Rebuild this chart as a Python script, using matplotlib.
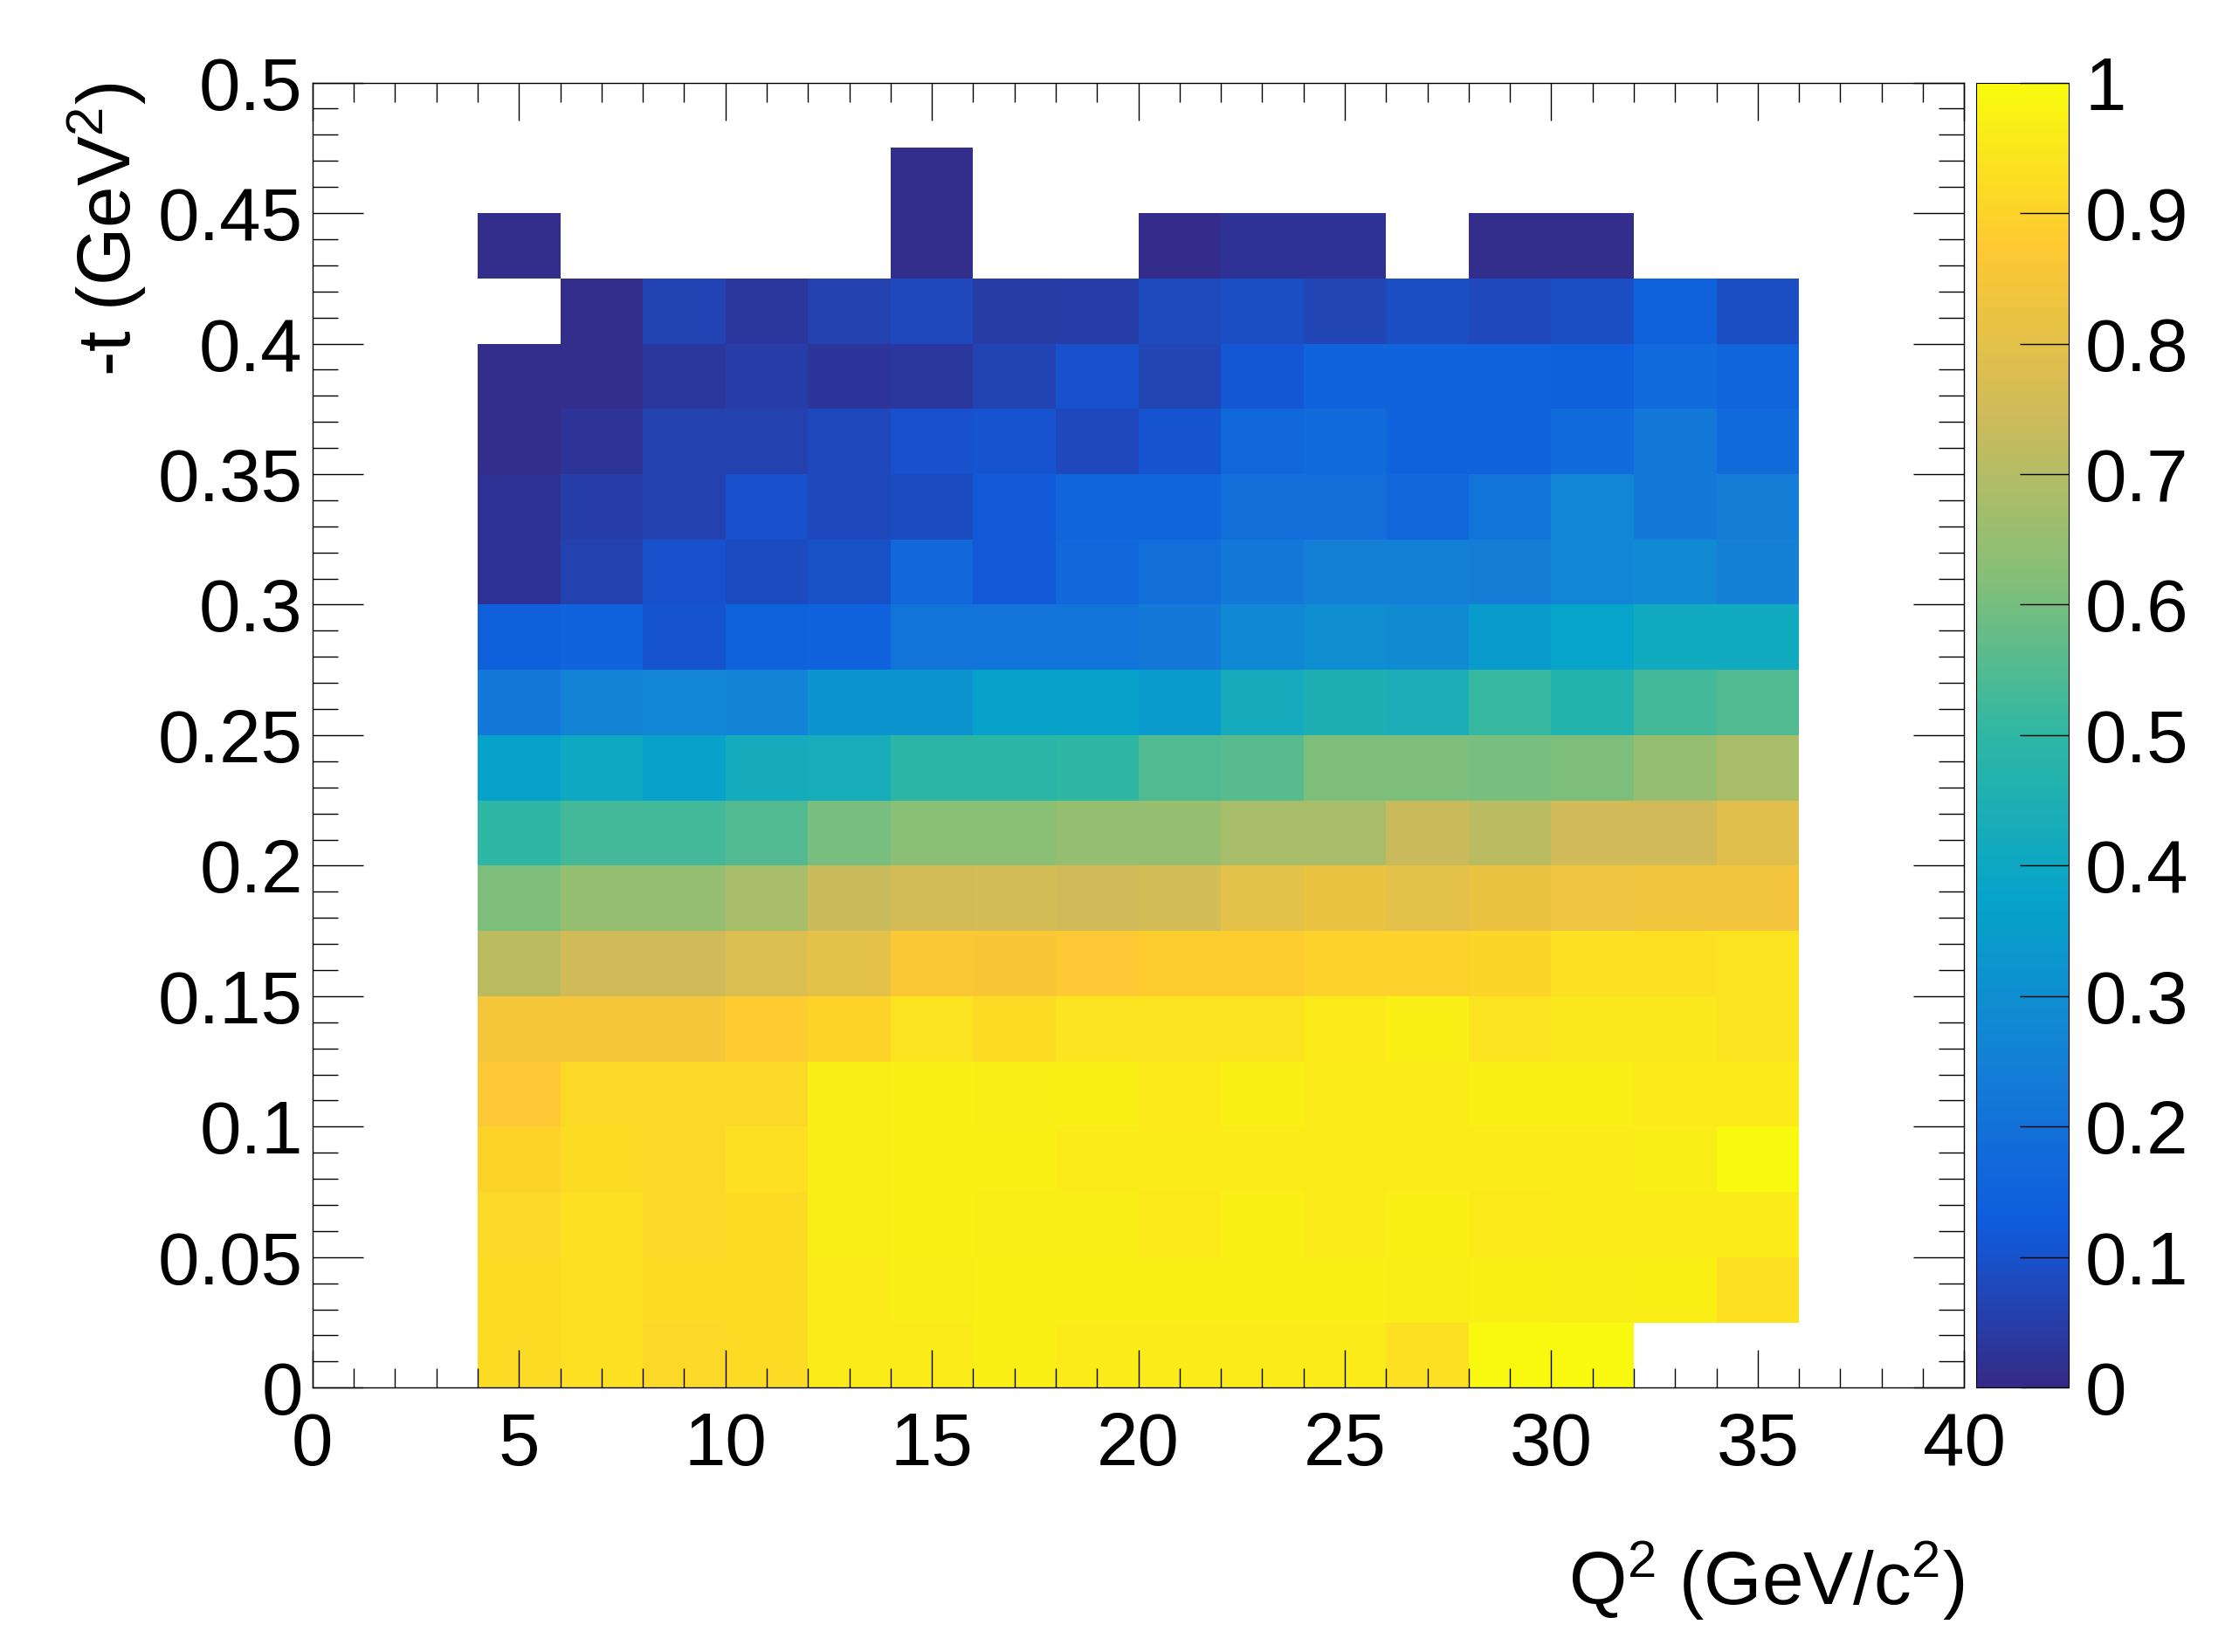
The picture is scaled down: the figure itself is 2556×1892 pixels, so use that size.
import numpy as np
import matplotlib
matplotlib.use("Agg")
import matplotlib.pyplot as plt
from matplotlib.colors import LinearSegmentedColormap

plt.rcParams['font.family'] = ['Liberation Sans', 'DejaVu Sans']
plt.rcParams['mathtext.fontset'] = 'custom'
plt.rcParams['mathtext.rm'] = 'Liberation Sans'
plt.rcParams['mathtext.it'] = 'Liberation Sans:italic'
plt.rcParams['mathtext.bf'] = 'Liberation Sans:bold'

# ---------------- data ----------------
q2_edges = [4, 6, 8, 10, 12, 14, 16, 18, 20, 22, 24, 26, 28, 30, 32, 34, 36]
t_edges = [0.0, 0.025, 0.05, 0.075, 0.1, 0.125, 0.15, 0.175, 0.2, 0.225,
           0.25, 0.275, 0.3, 0.325, 0.35, 0.375, 0.4, 0.425, 0.45, 0.475]

N = None
# rows from lowest -t bin (0-0.025) upwards, columns Q2 = 4..36 in steps of 2
row_00 = [0.92, 0.93, 0.91, 0.92, 0.96, 0.96, 0.97, 0.96, 0.96, 0.96, 0.96, 0.93, 0.995, 0.995, N, N]
row_01 = [0.92, 0.93, 0.92, 0.92, 0.96, 0.965, 0.97, 0.97, 0.97, 0.97, 0.97, 0.965, 0.97, 0.965, 0.97, 0.93]
row_02 = [0.91, 0.93, 0.91, 0.92, 0.965, 0.97, 0.965, 0.965, 0.955, 0.97, 0.96, 0.97, 0.955, 0.96, 0.96, 0.96]
row_03 = [0.90, 0.92, 0.91, 0.93, 0.965, 0.97, 0.97, 0.96, 0.96, 0.96, 0.96, 0.96, 0.96, 0.96, 0.965, 0.995]
row_04 = [0.87, 0.91, 0.91, 0.91, 0.965, 0.97, 0.965, 0.97, 0.955, 0.97, 0.96, 0.96, 0.97, 0.97, 0.955, 0.955]
row_05 = [0.85, 0.85, 0.85, 0.88, 0.90, 0.94, 0.92, 0.94, 0.94, 0.94, 0.955, 0.97, 0.94, 0.95, 0.95, 0.94]
row_06 = [0.71, 0.75, 0.75, 0.78, 0.80, 0.865, 0.86, 0.87, 0.885, 0.885, 0.895, 0.895, 0.905, 0.93, 0.93, 0.94]
row_07 = [0.61, 0.65, 0.65, 0.68, 0.735, 0.755, 0.76, 0.75, 0.76, 0.80, 0.82, 0.80, 0.82, 0.83, 0.84, 0.84]
row_08 = [0.50, 0.53, 0.53, 0.55, 0.60, 0.63, 0.63, 0.65, 0.65, 0.68, 0.68, 0.735, 0.71, 0.75, 0.75, 0.79]
row_09 = [0.37, 0.40, 0.37, 0.42, 0.43, 0.49, 0.49, 0.50, 0.55, 0.56, 0.61, 0.61, 0.60, 0.61, 0.65, 0.68]
row_10 = [0.22, 0.26, 0.27, 0.26, 0.32, 0.32, 0.37, 0.37, 0.345, 0.42, 0.45, 0.44, 0.51, 0.47, 0.53, 0.55]
row_11 = [0.14, 0.15, 0.105, 0.145, 0.15, 0.21, 0.21, 0.21, 0.22, 0.275, 0.30, 0.29, 0.345, 0.375, 0.415, 0.415]
row_12 = [0.02, 0.06, 0.10, 0.085, 0.095, 0.165, 0.12, 0.165, 0.19, 0.22, 0.245, 0.245, 0.24, 0.27, 0.28, 0.25]
row_13 = [0.02, 0.05, 0.06, 0.10, 0.075, 0.085, 0.12, 0.16, 0.16, 0.19, 0.19, 0.165, 0.21, 0.27, 0.22, 0.24]
row_14 = [0.01, 0.025, 0.06, 0.06, 0.075, 0.10, 0.105, 0.075, 0.105, 0.165, 0.18, 0.15, 0.15, 0.18, 0.22, 0.18]
row_15 = [0.01, 0.01, 0.035, 0.05, 0.03, 0.035, 0.065, 0.10, 0.07, 0.11, 0.15, 0.15, 0.15, 0.14, 0.18, 0.16]
row_16 = [N, 0.01, 0.065, 0.035, 0.06, 0.075, 0.045, 0.05, 0.08, 0.09, 0.07, 0.09, 0.075, 0.09, 0.145, 0.09]
row_17 = [0.01, N, N, N, N, 0.01, N, N, 0.005, 0.02, 0.02, N, 0.01, 0.01, N, N]
row_18 = [N, N, N, N, N, 0.01, N, N, N, N, N, N, N, N, N, N]

rows = [row_00, row_01, row_02, row_03, row_04, row_05, row_06, row_07, row_08, row_09,
        row_10, row_11, row_12, row_13, row_14, row_15, row_16, row_17, row_18]

x_ticks = [0, 5, 10, 15, 20, 25, 30, 35, 40]
x_ticklabels = ["0", "5", "10", "15", "20", "25", "30", "35", "40"]
y_ticks = [0, 0.05, 0.1, 0.15, 0.2, 0.25, 0.3, 0.35, 0.4, 0.45, 0.5]
y_ticklabels = ["0", "0.05", "0.1", "0.15", "0.2", "0.25", "0.3", "0.35", "0.4", "0.45", "0.5"]
z_ticks = [0, 0.1, 0.2, 0.3, 0.4, 0.5, 0.6, 0.7, 0.8, 0.9, 1.0]
z_ticklabels = ["0", "0.1", "0.2", "0.3", "0.4", "0.5", "0.6", "0.7", "0.8", "0.9", "1"]

x_title = r"Q$^{2}$ (GeV/c$^{2}$)"
y_title = r"-t (GeV$^{2}$)"

# ---------------- ROOT kBird palette ----------------
stops = [0.0, 0.125, 0.25, 0.375, 0.5, 0.625, 0.75, 0.875, 1.0]
red = [0.2082, 0.0592, 0.0780, 0.0232, 0.1802, 0.5301, 0.8186, 0.9956, 0.9764]
green = [0.1664, 0.3599, 0.5041, 0.6419, 0.7178, 0.7492, 0.7328, 0.7862, 0.9832]
blue = [0.5293, 0.8684, 0.8385, 0.7914, 0.6425, 0.4662, 0.3499, 0.1968, 0.0539]
bird = LinearSegmentedColormap.from_list(
    "kBird", list(zip(stops, zip(red, green, blue))), N=255)

Z = np.array([[np.nan if v is None else v for v in r] for r in rows], dtype=float)
Zm = np.ma.masked_invalid(Z)

FS = 61.5
fig = plt.figure(figsize=(25.56, 18.92), dpi=100)
ax = fig.add_axes([0.14, 0.16, 0.74, 0.79])
cax = fig.add_axes([0.8854, 0.16, 0.0415, 0.79])

mesh = ax.pcolormesh(q2_edges, t_edges, Zm, cmap=bird, vmin=0, vmax=1,
                     shading="flat", edgecolors="none", antialiased=False)

ax.set_xlim(0, 40)
ax.set_ylim(0, 0.5)
ax.set_xticks(x_ticks)
ax.set_xticklabels(x_ticklabels, fontsize=FS)
ax.set_xticks(np.arange(0, 41, 1), minor=True)
ax.set_yticks(y_ticks)
ax.set_yticklabels(y_ticklabels, fontsize=FS)
ax.set_yticks(np.arange(0, 0.501, 0.01), minor=True)

ax.tick_params(which="both", direction="in", top=True, right=True, width=1.0, color="black")
ax.tick_params(axis="x", which="major", length=31, pad=19)
ax.tick_params(axis="x", which="minor", length=15.5)
ax.tick_params(axis="y", which="major", length=42, pad=8)
ax.tick_params(axis="y", which="minor", length=21)
for s in ax.spines.values():
    s.set_linewidth(1.0)

ax.set_xlabel(x_title, fontsize=FS, ha="right", va="center")
ax.xaxis.set_label_coords(1.0, -0.148)
ax.set_ylabel(y_title, fontsize=FS, ha="right", va="center")
ax.yaxis.set_label_coords(-0.1247, 1.0)

cb = fig.colorbar(mesh, cax=cax)
cb.set_ticks(z_ticks)
cb.set_ticklabels(z_ticklabels)
cax.tick_params(which="major", direction="in", length=40, width=1.0, pad=13,
                labelsize=FS, right=True, left=False)
cax.minorticks_off()
cb.outline.set_linewidth(0.8)

fig.savefig("out.png", dpi=100)
